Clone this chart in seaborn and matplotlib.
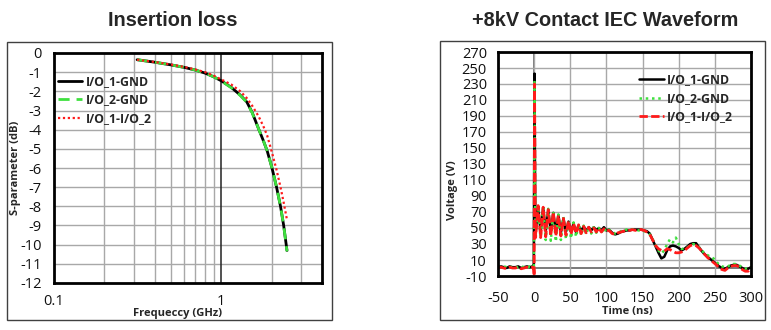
import matplotlib
matplotlib.use("Agg")
import matplotlib.pyplot as plt
import seaborn as sns
import pandas as pd
from matplotlib.patches import Rectangle

# ---------------- Insertion loss data ----------------
freq_ghz = [0.314, 0.4, 0.5, 0.6, 0.7, 0.8, 0.9, 1.0, 1.15, 1.3,
            1.42, 1.53, 1.67, 1.78, 1.88, 2.01, 2.14, 2.26, 2.36, 2.47]
il_io1_gnd = [-0.35, -0.48, -0.62, -0.75, -0.89, -1.05, -1.24, -1.45, -1.8, -2.2,
              -2.55, -3.1, -3.95, -4.55, -5.1, -6.0, -7.0, -8.0, -9.0, -10.3]
il_io2_gnd = [-0.35, -0.48, -0.62, -0.75, -0.89, -1.05, -1.24, -1.46, -1.82, -2.22,
              -2.57, -3.12, -3.95, -4.55, -5.1, -6.0, -7.0, -8.0, -9.0, -10.35]
il_io1_io2 = [-0.35, -0.47, -0.60, -0.73, -0.86, -1.0, -1.18, -1.38, -1.65, -2.0,
              -2.35, -2.75, -3.3, -3.8, -4.3, -5.2, -6.1, -7.0, -7.8, -8.7]

# ---------------- ESD waveform data ----------------
t_base = [-50, -46, -42, -38, -34, -30, -26, -22, -18, -14, -10, -6, -2]
t_spike = [-0.5, 0, 0.5, 1, 1.5]
t_osc = [2, 5.5, 9, 12.5, 16, 19.5, 23, 26.5, 30, 33.5,
         37, 40.5, 44, 47.5, 51, 54.5, 58, 61.5, 65, 68.5,
         72, 75.5, 79, 82.5, 86, 89.5, 93, 96.5, 100, 103.5]
t_tail = list(range(108, 301, 4))
time_ns = t_base + t_spike + t_osc + t_tail

v_io1_gnd = ([1, 2, 1, 0, 2, 1, 1, 2, 0, 1, 2, 1, 2]
             + [5, 120, 243, 150, 80]
             + [45, 74, 46, 75, 46, 72, 46, 69, 45, 66,
                44, 62, 45, 58, 45, 55, 45, 53, 46, 52,
                46, 51, 47, 51, 47, 50, 47, 51, 47, 48]
             + [44, 42, 43, 45, 46, 47, 47, 48, 48, 48,
                48, 47, 46, 43, 35, 27, 19, 12, 14, 22,
                27, 28, 27, 25, 22, 24, 27, 30, 31, 31,
                26, 21, 17, 14, 11, 8, 5, 2, 0, -1,
                1, 3, 4, 4, 2, 0, -2, -1, 1])
v_io2_gnd = ([2, 1, 2, 1, 0, 2, 1, 1, 2, 1, 0, 2, 1]
             + [3, 60, 235, 130, 75]
             + [40, 77, 38, 78, 35, 74, 34, 70, 33, 67,
                35, 64, 36, 60, 37, 57, 39, 55, 41, 53,
                42, 52, 43, 51, 44, 50, 44, 50, 45, 48]
             + [45, 43, 44, 46, 47, 48, 48, 48, 48, 47,
                47, 46, 45, 42, 36, 28, 22, 18, 22, 30,
                36, 32, 38, 30, 24, 24, 26, 28, 30, 29,
                26, 22, 18, 16, 14, 12, 8, 4, 2, 1,
                2, 4, 5, 5, 3, 1, -1, 0, 1])
v_io1_io2 = ([0, 1, 0, -1, 1, 0, 0, 1, -1, 0, 1, 0, 1]
             + [-2, -10, 230, 160, 60]
             + [38, 78, 38, 76, 39, 73, 40, 70, 40, 66,
                40, 62, 41, 59, 42, 56, 43, 54, 43, 52,
                44, 51, 45, 50, 45, 50, 45, 49, 46, 47]
             + [43, 42, 44, 45, 46, 47, 47, 48, 47, 48,
                48, 47, 45, 42, 35, 28, 24, 22, 21, 24,
                23, 21, 19, 19, 20, 22, 25, 28, 29, 28,
                25, 21, 17, 13, 10, 7, 4, 0, -2, -3,
                0, 2, 3, 3, 1, -2, -4, -4, 0])

labels = ["I/O_1-GND", "I/O_2-GND", "I/O_1-I/O_2"]
c_black, c_green, c_red = "#000000", "#3ee03e", "#ff1a1a"

sns.set_style("white")
plt.rcParams["font.family"] = ["Open Sans", "DejaVu Sans"]

W, H = 771, 330
fig = plt.figure(figsize=(W / 100, H / 100), dpi=100)

def ax_rect(l, t, r, b):
    return [l / W, 1 - b / H, (r - l) / W, (b - t) / H]

# frames
for (l, t, r, b) in [(7, 42, 332, 320), (440, 41, 765, 320)]:
    fig.add_artist(Rectangle((l / W, 1 - b / H), (r - l) / W, (b - t) / H,
                             transform=fig.transFigure, fill=False,
                             edgecolor="#404040", lw=1.0))

title_font = dict(family="Liberation Sans", weight="bold", size=14.3)
fig.text(173 / W, 1 - 20 / H, "Insertion loss", ha="center", va="center", **title_font)
fig.text(605 / W, 1 - 20 / H, "+8kV Contact IEC Waveform", ha="center", va="center", **title_font)

grid_c = "#a8a8a8"
label_font = dict(family="Open Sans", weight="bold", size=8.0)
legend_prop = dict(family="Open Sans", weight="bold", size=8.8)

# ---------------- Left chart ----------------
ax1 = fig.add_axes(ax_rect(54, 53, 322, 283))
df1 = pd.DataFrame({"f": freq_ghz, labels[0]: il_io1_gnd,
                    labels[1]: il_io2_gnd, labels[2]: il_io1_io2})
ax1.set_xscale("log")
sns.lineplot(data=df1, x="f", y=labels[0], ax=ax1, color=c_black, lw=2.0,
             label=labels[0], estimator=None, sort=False)
sns.lineplot(data=df1, x="f", y=labels[1], ax=ax1, color=c_green, lw=2.0,
             linestyle=(0, (4, 2.5)), label=labels[1], estimator=None, sort=False)
sns.lineplot(data=df1, x="f", y=labels[2], ax=ax1, color=c_red, lw=1.6,
             linestyle=(0, (1, 1.2)), label=labels[2], estimator=None, sort=False)
ax1.set_xlim(0.1, 4)
ax1.set_ylim(-12, 0)
for v in [0.2, 0.3, 0.4, 0.5, 0.6, 0.7, 0.8, 0.9, 2, 3]:
    ax1.axvline(v, color=grid_c, lw=1.0, zorder=0)
ax1.axvline(1, color="#222222", lw=1.1, zorder=0.5)
for v in range(-11, 0):
    ax1.axhline(v, color=grid_c, lw=1.0, zorder=0)
ax1.set_xticks([0.1, 1])
ax1.set_xticklabels(["0.1", "1"])
ax1.minorticks_off()
ax1.set_yticks(list(range(-12, 1)))
ax1.set_yticklabels([str(v) for v in range(-12, 1)])
ax1.tick_params(axis="both", length=0, labelsize=10.5, colors="#111111")
ax1.tick_params(axis="y", pad=9)
ax1.tick_params(axis="x", pad=8)
ax1.set_xlabel("Frequeccy (GHz)", **label_font)
ax1.set_ylabel("S-parameter (dB)", **label_font)
ax1.xaxis.set_label_coords(0.46, -0.108)
ax1.yaxis.set_label_coords(-0.125, 0.5)
for s in ax1.spines.values():
    s.set_color("black")
    s.set_linewidth(2.0)
ax1.legend(loc="upper left", bbox_to_anchor=(0.015, 0.905), frameon=False,
           prop=legend_prop, handlelength=2.0, handletextpad=0.25,
           labelspacing=0.45, borderpad=0, borderaxespad=0)

# ---------------- Right chart ----------------
ax2 = fig.add_axes(ax_rect(498, 52, 751, 276))
df2 = pd.DataFrame({"t": time_ns, labels[0]: v_io1_gnd,
                    labels[1]: v_io2_gnd, labels[2]: v_io1_io2})
ax2.axvline(0, color="#555555", lw=1.1, zorder=0.5)
ax2.axhline(0, color="#555555", lw=1.1, zorder=0.5)
sns.lineplot(data=df2, x="t", y=labels[0], ax=ax2, color=c_black, lw=1.8,
             label=labels[0], estimator=None, sort=False)
sns.lineplot(data=df2, x="t", y=labels[1], ax=ax2, color=c_green, lw=1.8,
             linestyle=(0, (1, 1.5)), label=labels[1], estimator=None, sort=False)
sns.lineplot(data=df2, x="t", y=labels[2], ax=ax2, color=c_red, lw=2.0,
             linestyle=(0, (3, 1.2)), label=labels[2], estimator=None, sort=False)
ax2.set_xlim(-50, 300)
ax2.set_ylim(-10, 270)
xt = list(range(-50, 301, 50))
yt = list(range(-10, 271, 20))
ax2.set_xticks(xt)
ax2.set_yticks(yt)
ax2.set_xticklabels([str(v) for v in xt])
ax2.set_yticklabels([str(v) for v in yt])
ax2.grid(True, color=grid_c, lw=1.0)
ax2.set_axisbelow(True)
ax2.tick_params(axis="both", length=0, labelsize=10.5, colors="#111111")
ax2.tick_params(axis="y", pad=8)
ax2.tick_params(axis="x", pad=11)
ax2.set_xlabel("Time (ns)", **label_font)
ax2.set_ylabel("Voltage (V)", **label_font)
ax2.xaxis.set_label_coords(0.51, -0.135)
ax2.yaxis.set_label_coords(-0.16, 0.385)
for s in ax2.spines.values():
    s.set_color("black")
    s.set_linewidth(2.0)
ax2.legend(loc="upper left", bbox_to_anchor=(0.558, 0.905), frameon=False,
           prop=legend_prop, handlelength=2.0, handletextpad=0.25,
           labelspacing=0.45, borderpad=0, borderaxespad=0)

fig.savefig("out.png", dpi=100)
